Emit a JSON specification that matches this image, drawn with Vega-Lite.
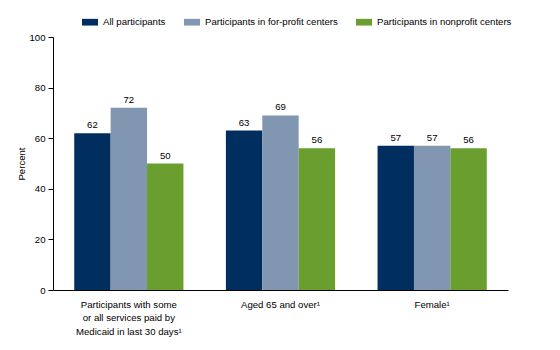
{
  "$schema": "https://vega.github.io/schema/vega-lite/v6.json",
  "autosize": {"type": "none"},
  "width": 455,
  "height": 253,
  "padding": {"left": 53, "top": 37, "right": 52, "bottom": 60},
  "background": "white",
  "config": {
    "view": {"stroke": null},
    "font": "Liberation Sans",
    "axis": {"labelFont": "Liberation Sans", "titleFont": "Liberation Sans", "labelColor": "black", "titleColor": "black", "domainColor": "black", "tickColor": "black"}
  },
  "data": {
    "values": [
      {"cat": "Participants with some|or all services paid by|Medicaid in last 30 days¹", "series": "All participants", "value": 62},
      {"cat": "Participants with some|or all services paid by|Medicaid in last 30 days¹", "series": "Participants in for-profit centers", "value": 72},
      {"cat": "Participants with some|or all services paid by|Medicaid in last 30 days¹", "series": "Participants in nonprofit centers", "value": 50},
      {"cat": "Aged 65 and over¹", "series": "All participants", "value": 63},
      {"cat": "Aged 65 and over¹", "series": "Participants in for-profit centers", "value": 69},
      {"cat": "Aged 65 and over¹", "series": "Participants in nonprofit centers", "value": 56},
      {"cat": "Female¹", "series": "All participants", "value": 57},
      {"cat": "Female¹", "series": "Participants in for-profit centers", "value": 57},
      {"cat": "Female¹", "series": "Participants in nonprofit centers", "value": 56}
    ]
  },
  "encoding": {
    "x": {
      "field": "cat", "type": "nominal", "sort": null,
      "scale": {"paddingInner": 0.28, "paddingOuter": 0.14},
      "axis": {"title": null, "labelAngle": 0, "ticks": false, "labelFontSize": 9.6, "labelPadding": 9, "labelLineHeight": 13.5, "labelExpr": "split(datum.label, '|')", "domainWidth": 1}
    },
    "xOffset": {"field": "series", "type": "nominal", "sort": null},
    "y": {
      "field": "value", "type": "quantitative",
      "scale": {"domain": [0, 100]},
      "axis": {"title": "Percent", "titleFontSize": 9.6, "titleFontWeight": "normal", "titlePadding": 2, "values": [0, 20, 40, 60, 80, 100], "grid": false, "labelFontSize": 9.6, "tickSize": 5, "labelPadding": 3, "domainWidth": 1}
    }
  },
  "layer": [
    {
      "mark": {"type": "bar"},
      "encoding": {
        "color": {
          "field": "series", "type": "nominal", "sort": null,
          "scale": {"range": ["#002f5f", "#8196b0", "#6a9f2f"]},
          "legend": {
            "title": null, "orient": "none", "direction": "horizontal",
            "legendX": 29, "legendY": -23,
            "symbolType": "M-1,-0.42H1V0.42H-1Z", "symbolSize": 256,
            "symbolStrokeWidth": 0, "labelFontSize": 9.6, "labelColor": "black",
            "columnPadding": 18, "labelOffset": 5
          }
        }
      }
    },
    {
      "mark": {"type": "text", "baseline": "bottom", "dy": -3, "fontSize": 9.6, "color": "black"},
      "encoding": {"text": {"field": "value", "type": "quantitative"}}
    }
  ]
}
